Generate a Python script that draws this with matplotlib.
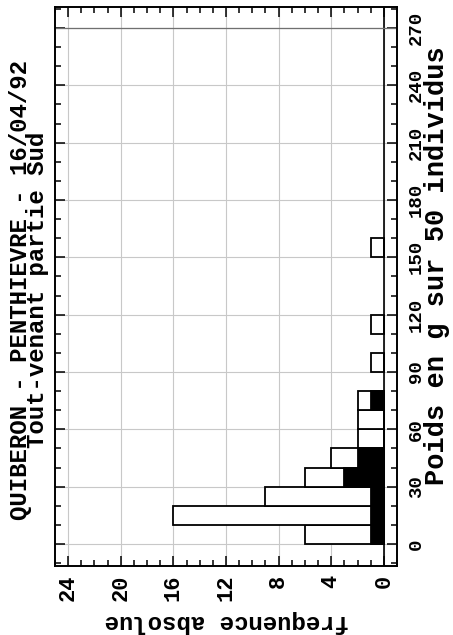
import matplotlib
matplotlib.use("Agg")
import matplotlib.pyplot as plt
from matplotlib import ticker

# weight classes (lower bound, g), 10 g wide
bin_starts = [0, 10, 20, 30, 40, 50, 60, 70, 90, 110, 150]
# all individuals per class
counts_total = [6, 16, 9, 6, 4, 2, 2, 2, 1, 1, 1]
# filled part of each class
counts_filled = [1, 1, 1, 3, 2, 0, 0, 1, 0, 0, 0]

bin_width = 10
weight_ticks = [0, 30, 60, 90, 120, 150, 180, 210, 240, 270]
freq_ticks = [0, 4, 8, 12, 16, 20, 24]

title_main = "QUIBERON - PENTHIEVRE - 16/04/92"
title_sub = "Tout-venant partie Sud"
weight_label = "Poids en g sur 50 individus"
freq_label = "frequence absolue"

W, H = 453, 635
font = "Liberation Mono"


def px(size):
    # pixel size to points at 100 dpi
    return size * 0.72


fig = plt.figure(figsize=(W / 100, H / 100), dpi=100)
ax = fig.add_axes([55 / W, 69 / H, 342 / W, 559 / H])

centers = [b + bin_width / 2 for b in bin_starts]
ax.barh(centers, counts_total, height=bin_width, left=0,
        color="white", edgecolor="black", linewidth=1.3, zorder=3)
ax.barh(centers, counts_filled, height=bin_width, left=0,
        color="black", edgecolor="black", linewidth=1.3, zorder=4)

ax.set_xlim(25, -1)
ax.set_ylim(-11.5, 281)

ax.xaxis.set_major_locator(ticker.FixedLocator(freq_ticks))
ax.xaxis.set_minor_locator(ticker.MultipleLocator(1))
ax.yaxis.set_major_locator(ticker.FixedLocator(weight_ticks))
ax.yaxis.set_minor_locator(ticker.MultipleLocator(10))

ax.grid(True, which="major", color="#c8c8c8", linewidth=0.8, zorder=1)
ax.axvline(0, color="black", linewidth=1.2, zorder=2)
ax.axhline(weight_ticks[-1], color="#707070", linewidth=0.9, zorder=2)

ax.tick_params(which="both", direction="in", top=True, bottom=True,
               left=True, right=True, width=1.1, color="black")
ax.tick_params(which="major", length=7)
ax.tick_params(which="minor", length=4)
ax.tick_params(axis="y", labelleft=False, labelright=True, pad=8)
ax.tick_params(axis="x", pad=6)

for lab in ax.get_yticklabels():
    lab.set_rotation(90)
    lab.set_ha("left")
    lab.set_va("center")
    lab.set_family(font)
    lab.set_weight("bold")
    lab.set_fontsize(px(19))
for lab in ax.get_xticklabels():
    lab.set_rotation(90)
    lab.set_ha("center")
    lab.set_va("top")
    lab.set_family(font)
    lab.set_weight("bold")
    lab.set_fontsize(px(22))

for side in ax.spines.values():
    side.set_linewidth(1.4)

ax.set_xlabel(freq_label, rotation=180, family=font, weight="bold",
              fontsize=px(24), ha="center", va="center")
ax.xaxis.set_label_coords(0.503, -0.100)

ax.yaxis.set_label_position("right")
ax.set_ylabel(weight_label, rotation=90, family=font, weight="bold",
              fontsize=px(27), ha="center", va="center")
ax.yaxis.set_label_coords((437 - 55) / 342, 0.538)

# two-line title set tight, second line tucked under the first
fig.text(29 / W, 1 - 290 / H, title_main + "\n" + title_sub, rotation=90,
         family=font, weight="bold", fontsize=px(24), ha="center",
         va="center", multialignment="center", linespacing=0.72,
         rotation_mode="anchor")

fig.savefig("out.png", dpi=100)
